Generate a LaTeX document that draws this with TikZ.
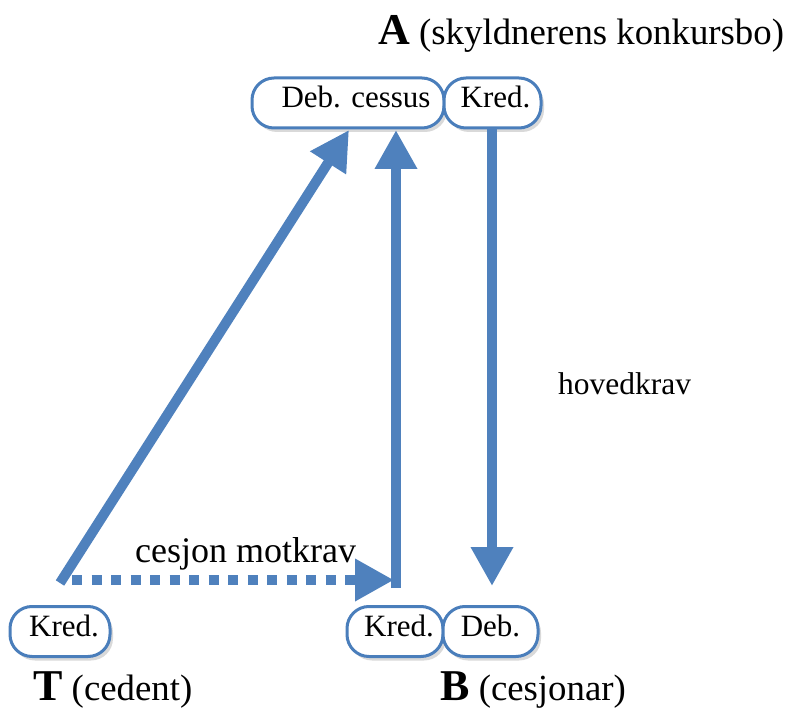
\documentclass[tikz,border=0pt]{standalone}
\usepackage{fontspec}
\setmainfont{Liberation Serif}
\usetikzlibrary{arrows.meta,shadows}
\definecolor{mblue}{HTML}{4F81BD}
\definecolor{bblue}{HTML}{4A7EBB}
\newcommand{\bgltr}[1]{{\fontsize{44}{50}\selectfont\bfseries #1}}
\begin{document}
\begin{tikzpicture}[x=1pt,y=-1pt,
  box/.style={draw=bblue, line width=3pt, rounded corners=22pt, minimum height=50pt,
    inner sep=0pt, fill=white, font=\fontsize{31}{36}\selectfont,
    text height=22pt, text depth=13pt,
    drop shadow={shadow xshift=3pt, shadow yshift=-4pt, opacity=0.15, fill=black}},
  arr/.style={draw=mblue, line width=10pt, -{Triangle[length=39pt,width=40pt]}},
  dotarr/.style={arr, dash pattern=on 10pt off 9.5pt},
  lbl/.style={font=\fontsize{36.8}{42}\selectfont, anchor=base west, inner sep=0pt},
  txt/.style={font=\fontsize{31.5}{36}\selectfont, anchor=base west, inner sep=0pt}]
\useasboundingbox (0,0) rectangle (793,711);
% boxes
\node[box, minimum width=192pt] (deb) at (348,103) {\hspace{16pt}Deb. cessus};
\node[box, minimum width=97pt] (kredA) at (492.5,103) {\hspace{6pt}Kred.};
\node[box, minimum width=100pt] (kredT) at (60,631.5) {\hspace{8pt}Kred.};
\node[box, minimum width=96pt] (kredB) at (395,631.5) {\hspace{8pt}Kred.};
\node[box, minimum width=95pt] (debB) at (490.5,631.5) {Deb.};
% labels
\node[lbl] (labA) at (378,45) {\bgltr{A} (skyldnerens konkursbo)};
\node[lbl] (labT) at (33,700) {\bgltr{T} (cedent)};
\node[lbl] (labB) at (440,700) {\bgltr{B} (cesjonar)};
\node[txt] (hk) at (558,395) {hovedkrav};
\node[txt, font=\fontsize{36}{42}\selectfont] (cm) at (135,562) {cesjon motkrav};
% arrow endpoints
\coordinate (ts) at (60,583);
\coordinate (te) at (349,130);
\coordinate (vs) at (396,588);
\coordinate (ve) at (396,130);
\coordinate (ds) at (492,128);
\coordinate (de) at (492,586);
\coordinate (hs) at (72,580);
\coordinate (he) at (394,580);
% arrows
\draw[arr] (ts) -- (te);
\draw[arr, line cap=butt] (vs) -- (ve);
\draw[arr] (ds) -- (de);
\draw[dotarr] (hs) -- (he);
\end{tikzpicture}
\end{document}
